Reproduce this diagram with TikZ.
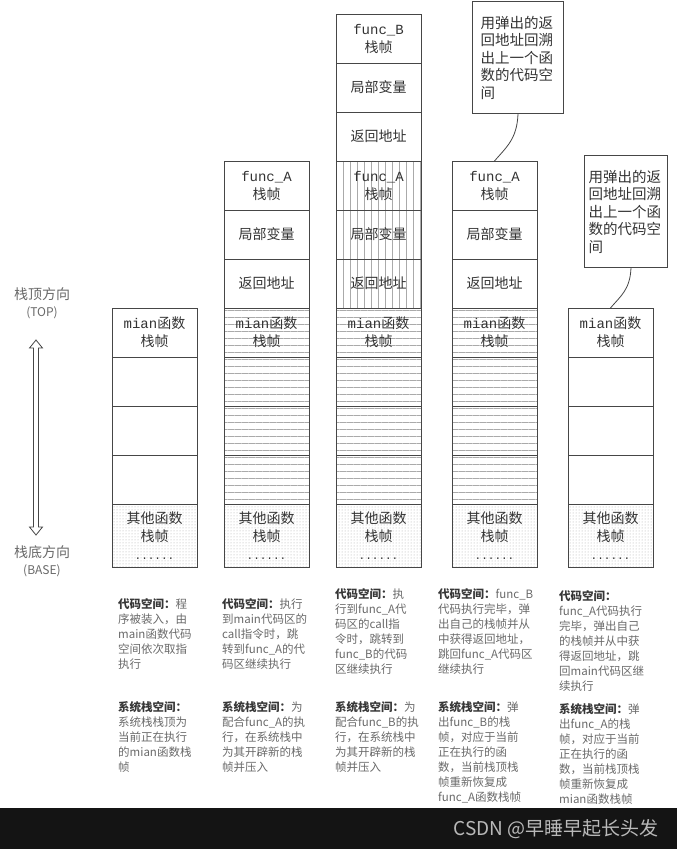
\documentclass[tikz,border=0pt]{standalone}
\usepackage{fontspec}
\setmainfont{Noto Sans CJK SC}
\newfontfamily\codefont{Liberation Mono}
\usepackage{xcolor}
\usepackage{tikz}
\usetikzlibrary{arrows.meta, positioning, patterns.meta}
\definecolor{boxline}{RGB}{70,70,70}
\definecolor{hatchgray}{RGB}{170,170,170}
\definecolor{notegray}{RGB}{105,105,105}
\definecolor{headgray}{RGB}{55,55,55}
\definecolor{footerblack}{RGB}{20,20,20}
\definecolor{footergray}{RGB}{185,185,185}

\newcommand{\code}[1]{{\codefont #1}}
\newcommand{\notehead}[1]{{\color{headgray}\bfseries #1}}
\newcommand{\dotsline}{{\codefont\fontsize{11}{18}\selectfont ......}}

\tikzset{
  cell/.style={draw=boxline, line width=1pt, minimum width=85pt, minimum height=49pt,
    inner sep=0pt, outer sep=0pt, align=center, text=black!80,
    font=\fontsize{14}{18}\selectfont},
  othercell/.style={cell, minimum height=63pt,
    pattern={Dots[distance=3pt, radius=0.5pt]}, pattern color=hatchgray},
  hlines/.style={pattern={Lines[angle=0, distance=7pt, line width=0.5pt]}, pattern color=hatchgray},
  vlines/.style={pattern={Lines[angle=90, distance=7pt, line width=0.5pt]}, pattern color=hatchgray},
  callout/.style={draw=boxline, line width=1pt, anchor=north west, minimum height=112pt,
    text width=75pt, align=left, inner sep=0pt, text=black!80,
    font=\fontsize{14.5}{17.5}\selectfont},
  axislabel/.style={align=center, text=notegray, font=\fontsize{14}{17}\selectfont},
  axisarrow/.style={draw=boxline, line width=0.8pt, line join=miter},
  note/.style={anchor=north west, align=left, inner sep=0pt, text=notegray,
    font=\fontsize{11.5}{15}\selectfont},
}

\begin{document}
\begin{tikzpicture}[x=1pt, y=-1pt]
  \useasboundingbox (0,0) rectangle (677,849);

  % stack direction
  \node[axislabel] (toplabel) at (42,303) {栈顶方向\\{\fontsize{12}{14}\selectfont (TOP)}};
  \node[axislabel] (baselabel) at (42,561) {栈底方向\\{\fontsize{12}{14}\selectfont (BASE)}};
  % hollow double arrow
  \draw[axisarrow] (36,340) -- (42.5,348) -- (38.5,348) -- (38.5,527) -- (42.5,527)
    -- (36,535) -- (29.5,527) -- (33.5,527) -- (33.5,348) -- (29.5,348) -- cycle;

  % column 1: program loaded
  \node[othercell, anchor=north west] (other1) at (112,504) {其他函数\\栈帧\\\dotsline};
  \node[cell, above=0pt of other1] (blank1c) {};
  \node[cell, above=0pt of blank1c] (blank1b) {};
  \node[cell, above=0pt of blank1b] (blank1a) {};
  \node[cell, above=0pt of blank1a] (main1) {\code{mian}函数\\栈帧};

  % column 2: call func_A
  \node[othercell, anchor=north west] (other2) at (224,504) {其他函数\\栈帧\\\dotsline};
  \node[cell, hlines, above=0pt of other2] (blank2c) {};
  \node[cell, hlines, above=0pt of blank2c] (blank2b) {};
  \node[cell, hlines, above=0pt of blank2b] (blank2a) {};
  \node[cell, hlines, above=0pt of blank2a] (main2) {\code{mian}函数\\栈帧};
  \node[cell, above=0pt of main2] (retA2) {返回地址};
  \node[cell, above=0pt of retA2] (localA2) {局部变量};
  \node[cell, above=0pt of localA2] (frameA2) {\code{func\_A}\\栈帧};

  % column 3: call func_B
  \node[othercell, anchor=north west] (other3) at (336,504) {其他函数\\栈帧\\\dotsline};
  \node[cell, hlines, above=0pt of other3] (blank3c) {};
  \node[cell, hlines, above=0pt of blank3c] (blank3b) {};
  \node[cell, hlines, above=0pt of blank3b] (blank3a) {};
  \node[cell, hlines, above=0pt of blank3a] (main3) {\code{mian}函数\\栈帧};
  \node[cell, vlines, above=0pt of main3] (retA3) {返回地址};
  \node[cell, vlines, above=0pt of retA3] (localA3) {局部变量};
  \node[cell, vlines, above=0pt of localA3] (frameA3) {\code{func\_A}\\栈帧};
  \node[cell, above=0pt of frameA3] (retB3) {返回地址};
  \node[cell, above=0pt of retB3] (localB3) {局部变量};
  \node[cell, above=0pt of localB3] (frameB3) {\code{func\_B}\\栈帧};

  % column 4: func_B returns
  \node[othercell, anchor=north west] (other4) at (452,504) {其他函数\\栈帧\\\dotsline};
  \node[cell, hlines, above=0pt of other4] (blank4c) {};
  \node[cell, hlines, above=0pt of blank4c] (blank4b) {};
  \node[cell, hlines, above=0pt of blank4b] (blank4a) {};
  \node[cell, hlines, above=0pt of blank4a] (main4) {\code{mian}函数\\栈帧};
  \node[cell, above=0pt of main4] (retA4) {返回地址};
  \node[cell, above=0pt of retA4] (localA4) {局部变量};
  \node[cell, above=0pt of localA4] (frameA4) {\code{func\_A}\\栈帧};

  % column 5: func_A returns
  \node[othercell, anchor=north west] (other5) at (568,504) {其他函数\\栈帧\\\dotsline};
  \node[cell, above=0pt of other5] (blank5c) {};
  \node[cell, above=0pt of blank5c] (blank5b) {};
  \node[cell, above=0pt of blank5b] (blank5a) {};
  \node[cell, above=0pt of blank5a] (main5) {\code{mian}函数\\栈帧};

  % callouts
  \node[callout, minimum width=91pt] (callout4) at (472,1)
    {用弹出的返\\回地址回溯\\出上一个函\\数的代码空\\间};
  \node[callout, minimum width=83pt] (callout5) at (584,155)
    {用弹出的返\\回地址回溯\\出上一个函\\数的代码空\\间};
  \draw[boxline, line width=0.8pt] (callout4.south)
    .. controls +(-1,25) and +(12,-14) .. (frameA4.north);
  \draw[boxline, line width=0.8pt] ([xshift=5pt]callout5.south)
    .. controls +(-1,22) and +(10,-12) .. (main5.north);

  % code space notes
  \node[note] (code1) at (118,598) {\notehead{代码空间：}程\\序被装入，由\\main函数代码\\空间依次取指\\执行};
  \node[note] (code2) at (222,598) {\notehead{代码空间：}执行\\到main代码区的\\call指令时，跳\\转到func\_A的代\\码区继续执行};
  \node[note] (code3) at (335,588) {\notehead{代码空间：}执\\行到func\_A代\\码区的call指\\令时，跳转到\\func\_B的代码\\区继续执行};
  \node[note] (code4) at (438,588) {\notehead{代码空间：}func\_B\\代码执行完毕，弹\\出自己的栈帧并从\\中获得返回地址，\\跳回func\_A代码区\\继续执行};
  \node[note] (code5) at (559,590) {\notehead{代码空间：}\\func\_A代码执行\\完毕，弹出自己\\的栈帧并从中获\\得返回地址，跳\\回main代码区继\\续执行};

  % system stack notes
  \node[note] (stack1) at (118,701) {\notehead{系统栈空间：}\\系统栈栈顶为\\当前正在执行\\的mian函数栈\\帧};
  \node[note] (stack2) at (222,701) {\notehead{系统栈空间：}为\\配合func\_A的执\\行，在系统栈中\\为其开辟新的栈\\帧并压入};
  \node[note] (stack3) at (335,701) {\notehead{系统栈空间：}为\\配合func\_B的执\\行，在系统栈中\\为其开辟新的栈\\帧并压入};
  \node[note] (stack4) at (438,701) {\notehead{系统栈空间：}弹\\出func\_B的栈\\帧，对应于当前\\正在执行的函\\数，当前栈顶栈\\帧重新恢复成\\func\_A函数栈帧};
  \node[note] (stack5) at (559,703) {\notehead{系统栈空间：}弹\\出func\_A的栈\\帧，对应于当前\\正在执行的函\\数，当前栈顶栈\\帧重新恢复成\\mian函数栈帧};

  % footer
  \fill[footerblack] (0,808) rectangle (677,849);
  \node[anchor=east, text=footergray, font=\fontsize{19}{22}\selectfont] (credit) at (662,829)
    {CSDN @早睡早起长头发};
\end{tikzpicture}
\end{document}
